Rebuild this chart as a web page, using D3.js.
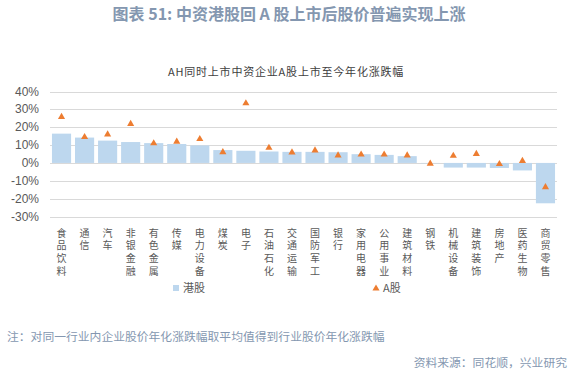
<!DOCTYPE html>
<html>
<head>
<meta charset="utf-8">
<script src="https://cdn.jsdelivr.net/npm/d3@7"></script>
<style>
  body { margin: 0; background: #fff; }
</style>
</head>
<body>
<div id="container"></div>
<script>
let categories = ["食品饮料","通信","汽车","非银金融","有色金属","传媒","电力设备","煤炭","电子","石油石化","交通运输",
  "国防军工","银行","家用电器","公用事业","建筑材料","钢铁","机械设备","建筑装饰","房地产","医药生物","商贸零售"];
let hkValues = [16.4, 14.2, 12.5, 11.7, 11.1, 10.6, 9.8, 7.2, 6.8, 6.4, 6.2,
  6.2, 6.0, 4.9, 4.5, 3.8, -0.2, -2.6, -2.6, -2.8, -4.2, -22.6];
let aValues = [25.8, 14.5, 16.0, 21.9, 11.0, 11.9, 13.4, 6.0, 33.4, 8.5, 5.9,
  7.0, 4.2, 4.7, 4.7, 4.2, -0.4, 4.0, 5.1, -0.6, 1.1, -13.6];
let yTicks = [40, 30, 20, 10, 0, -10, -20, -30];

let w = 578;
let h = 377;

let viz = d3.select("#container")
  .append("svg")
    .attr("width", w)
    .attr("height", h)
    .style("background-color", "white");

let xScale = d3.scaleBand().domain(categories).range([50, 557]).paddingInner(0.17).paddingOuter(0.085);
let yScale = d3.scaleLinear().domain([-30, 40]).range([216.5, 91.5]);

// main title
viz.append("text")
  .text("图表 51: 中资港股回 A 股上市后股价普遍实现上涨")
  .attr("x", 289).attr("y", 20)
  .attr("text-anchor", "middle")
  .attr("fill", "#8497b0")
  .style("font-family", "'Noto Sans CJK SC', 'Noto Sans', sans-serif")
  .style("font-weight", "bold")
  .style("font-size", "16px");

// chart title
viz.append("text")
  .text("AH同时上市中资企业A股上市至今年化涨跌幅")
  .attr("x", 286).attr("y", 76)
  .attr("text-anchor", "middle")
  .attr("fill", "#404040")
  .style("font-family", "'Noto Sans CJK SC', sans-serif")
  .style("letter-spacing", "0.8px")
  .style("font-size", "11px");

// grid
viz.append("g").selectAll("line").data(yTicks).enter().append("line")
  .attr("x1", 50).attr("x2", 557)
  .attr("y1", d => Math.round(yScale(d)) + 0.5)
  .attr("y2", d => Math.round(yScale(d)) + 0.5)
  .attr("stroke", "#d9d9d9")
  .attr("stroke-width", 1);

// y labels
viz.append("g").selectAll("text").data(yTicks).enter().append("text")
  .text(d => d + "%")
  .attr("x", 39)
  .attr("y", d => yScale(d) + 4)
  .attr("text-anchor", "end")
  .attr("fill", "#595959")
  .style("font-family", "'Liberation Sans', Arial, sans-serif")
  .style("font-size", "12px");

// bars
viz.append("g").selectAll("rect").data(hkValues).enter().append("rect")
  .attr("x", (d, i) => xScale(categories[i]))
  .attr("width", xScale.bandwidth())
  .attr("y", d => yScale(Math.max(0, d)))
  .attr("height", d => Math.abs(yScale(d) - yScale(0)))
  .attr("fill", "#bdd7ee");

// triangles
let tri = d3.symbol().type(d3.symbolTriangle).size(22);
viz.append("g").selectAll("path").data(aValues).enter().append("path")
  .attr("d", tri)
  .attr("transform", (d, i) => "translate(" + (xScale(categories[i]) + xScale.bandwidth() / 2) + "," + yScale(d) + ")")
  .attr("fill", "#ed7d31");

// category labels (vertical, one char per line)
viz.append("g").selectAll("text").data(categories).enter().append("text")
  .text(d => d)
  .attr("x", d => xScale(d) + xScale.bandwidth() / 2)
  .attr("y", 228)
  .attr("fill", "#595959")
  .style("writing-mode", "vertical-rl")
  .style("text-orientation", "upright")
  .style("letter-spacing", "2.7px")
  .style("font-family", "'Noto Sans CJK SC', sans-serif")
  .style("font-size", "10px");

// legend
let legend = viz.append("g");
legend.append("rect")
  .attr("x", 173).attr("y", 285).attr("width", 6).attr("height", 6)
  .attr("fill", "#bdd7ee");
legend.append("text")
  .text("港股")
  .attr("x", 183).attr("y", 292)
  .attr("fill", "#595959")
  .style("font-family", "'Noto Sans CJK SC', sans-serif")
  .style("font-size", "11px");
legend.append("path")
  .attr("d", tri)
  .attr("transform", "translate(376,288.5)")
  .attr("fill", "#ed7d31");
legend.append("text")
  .text("A股")
  .attr("x", 383).attr("y", 292)
  .attr("fill", "#595959")
  .style("font-family", "'Noto Sans CJK SC', sans-serif")
  .style("font-size", "11px");

// note and source
viz.append("text")
  .text("注：对同一行业内企业股价年化涨跌幅取平均值得到行业股价年化涨跌幅")
  .attr("x", 7).attr("y", 341)
  .attr("fill", "#8497b0")
  .style("font-family", "'Noto Sans CJK SC', sans-serif")
  .style("font-size", "11.8px");

viz.append("text")
  .text("资料来源：同花顺，兴业研究")
  .attr("x", 567).attr("y", 367)
  .attr("text-anchor", "end")
  .attr("fill", "#8497b0")
  .style("font-family", "'Noto Sans CJK SC', sans-serif")
  .style("font-size", "11.8px");
</script>
</body>
</html>
